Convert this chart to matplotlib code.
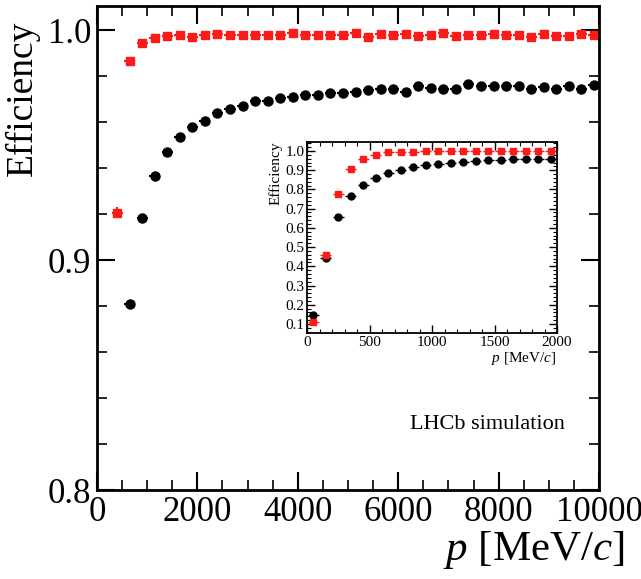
import numpy as np
import matplotlib.pyplot as plt
from matplotlib.ticker import MultipleLocator, FormatStrFormatter

plt.rcParams['font.family'] = 'Liberation Serif'
plt.rcParams['mathtext.fontset'] = 'custom'
plt.rcParams['mathtext.rm'] = 'Liberation Serif'
plt.rcParams['mathtext.it'] = 'Liberation Serif:italic'

# main plot: momentum bin centres [MeV/c]
p_red = np.arange(400, 10000, 250)
eff_red = [0.9206, 0.9868, 0.9942, 0.9967, 0.9975, 0.9981, 0.9971, 0.9978, 0.9982, 0.9977,
           0.9978, 0.9978, 0.9980, 0.9980, 0.9988, 0.9977, 0.9981, 0.9981, 0.9980, 0.9987,
           0.9971, 0.9984, 0.9977, 0.9984, 0.9974, 0.9979, 0.9988, 0.9975, 0.9981, 0.9981,
           0.9984, 0.9981, 0.9980, 0.9971, 0.9984, 0.9974, 0.9975, 0.9982, 0.9981]
err_red = [0.0025, 0.0012, 0.0008] + [0.0004] * 36

p_black = np.arange(650, 10000, 250)
eff_black = [0.8810, 0.9183, 0.9365, 0.9470, 0.9536, 0.9577, 0.9607, 0.9638, 0.9659, 0.9671,
             0.9694, 0.9690, 0.9704, 0.9710, 0.9719, 0.9719, 0.9726, 0.9727, 0.9733, 0.9740,
             0.9746, 0.9742, 0.9733, 0.9755, 0.9750, 0.9743, 0.9745, 0.9765, 0.9755, 0.9759,
             0.9758, 0.9757, 0.9742, 0.9751, 0.9745, 0.9757, 0.9746, 0.9761]

# inset: low momentum region
p_low = np.arange(50, 2000, 100)
eff_red_low = [0.110, 0.459, 0.775, 0.908, 0.957, 0.981, 0.993, 0.996, 0.997, 0.998,
               0.998, 0.998, 0.998, 0.998, 0.998, 0.998, 0.998, 0.998, 0.998, 0.998]
eff_black_low = [0.145, 0.445, 0.658, 0.765, 0.825, 0.860, 0.886, 0.903, 0.917, 0.929,
                 0.934, 0.938, 0.943, 0.948, 0.951, 0.953, 0.957, 0.958, 0.960, 0.960]

red = '#ff1a1a'

fig = plt.figure(figsize=(6.41, 5.79), dpi=100)
ax = fig.add_axes([0.1513, 0.1537, 0.7832, 0.8359])

ax.errorbar(p_black, eff_black, xerr=110, fmt='o', color='black', ms=6.5,
            elinewidth=1.5, capsize=0)
ax.errorbar(p_red, eff_red, xerr=110, yerr=err_red, fmt='s', color=red, ms=6,
            elinewidth=1.5, capsize=0)

ax.set_xlim(0, 10000)
ax.set_ylim(0.8, 1.0105)
ax.xaxis.set_major_locator(MultipleLocator(2000))
ax.xaxis.set_minor_locator(MultipleLocator(500))
ax.yaxis.set_major_locator(MultipleLocator(0.1))
ax.yaxis.set_minor_locator(MultipleLocator(0.02))
ax.yaxis.set_major_formatter(FormatStrFormatter('%.1f'))
ax.tick_params(which='both', direction='in', top=True, right=True, labelsize=25, pad=4)
ax.tick_params(which='major', length=13, width=1.5)
ax.tick_params(which='minor', length=7, width=1.2)
for s in ax.spines.values():
    s.set_linewidth(2)
ax.set_ylabel('Efficiency', fontsize=27, loc='top', labelpad=6)
ax.yaxis.label.set_y(0.97)
ax.set_xlabel(r'$p$ [MeV/$c$]', fontsize=31, loc='right', labelpad=0)
ax.xaxis.label.set_x(1.05)
ax.text(0.932, 0.135, 'LHCb simulation', transform=ax.transAxes, fontsize=16,
        ha='right', va='center')

# inset
ins = fig.add_axes([0.479, 0.4249, 0.390, 0.3299])
ins.errorbar(p_low, eff_black_low, xerr=45, fmt='o', color='black', ms=5,
             elinewidth=1.0, capsize=0)
ins.errorbar(p_low, eff_red_low, xerr=45, fmt='s', color=red, ms=5,
             elinewidth=1.0, capsize=0)
ins.set_xlim(0, 2000)
ins.set_ylim(0.053, 1.047)
ins.xaxis.set_major_locator(MultipleLocator(500))
ins.xaxis.set_minor_locator(MultipleLocator(100))
ins.yaxis.set_major_locator(MultipleLocator(0.1))
ins.yaxis.set_minor_locator(MultipleLocator(0.02))
ins.yaxis.set_major_formatter(FormatStrFormatter('%.1f'))
ins.tick_params(which='both', direction='in', top=True, right=True, labelsize=11, pad=2)
ins.tick_params(which='major', length=6, width=1)
ins.tick_params(which='minor', length=3, width=0.8)
for s in ins.spines.values():
    s.set_linewidth(1.3)
ins.set_ylabel('Efficiency', fontsize=11, loc='top', labelpad=2)
ins.set_xlabel(r'$p$ [MeV/$c$]', fontsize=11, loc='right', labelpad=1)

fig.savefig('out.png', dpi=100)
